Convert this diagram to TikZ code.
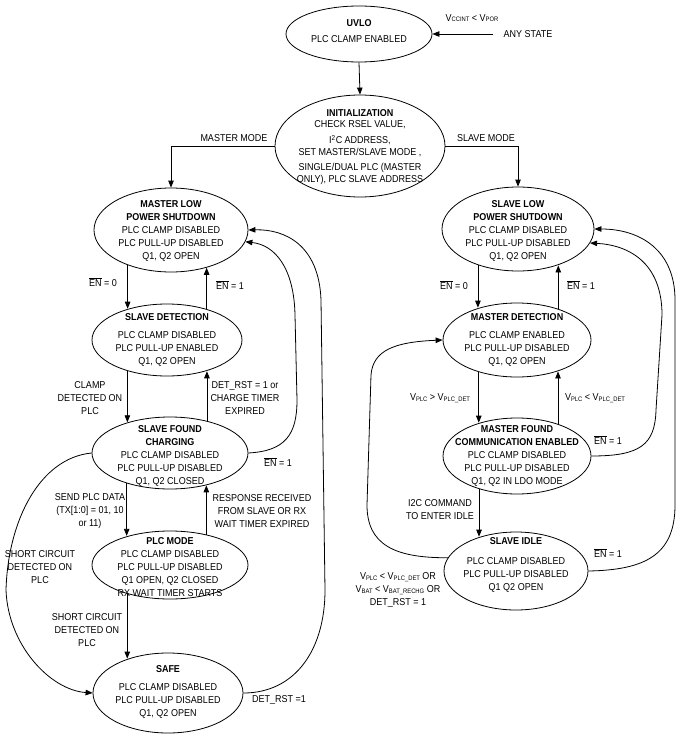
\documentclass[tikz,border=0pt]{standalone}
\usepackage{fontspec}
\setmainfont[FakeStretch=0.9]{Liberation Sans}
\usetikzlibrary{shapes.geometric,arrows.meta}
\newcommand{\lsub}[1]{\raisebox{-0.8pt}{\fontsize{6.5}{7}\selectfont #1}}
\newcommand{\ENb}{$\overline{\mbox{EN}}$}
\begin{document}
\begin{tikzpicture}[x=1pt,y=-1pt,
 st/.style={draw, ellipse, line width=0.8pt, inner sep=0pt},
 txt/.style={align=center, font=\fontsize{10}{13}\selectfont, inner sep=0pt},
 arr/.style={-{Triangle[length=7pt,width=5.5pt]}, line width=0.8pt}]
\useasboundingbox (0,0) rectangle (680,741);

% ---------- states ----------
\node[st, minimum width=146pt, minimum height=56pt] (uvlo) at (359,34) {};
\node[txt] (uvlot) at (359,31) {\textbf{UVLO}\\[3pt]PLC CLAMP ENABLED};

\node[st, minimum width=170pt, minimum height=102pt] (init) at (360,146) {};
\node[txt] (initt) at (360,147) {\textbf{INITIALIZATION}\\[-2pt]CHECK RSEL VALUE,\\[3.5pt]I\textsuperscript{2}C ADDRESS,\\[-1pt]SET MASTER/SLAVE MODE ,\\[2pt]SINGLE/DUAL PLC (MASTER\\[-1.3pt]ONLY), PLC SLAVE ADDRESS};

\node[st, minimum width=154pt, minimum height=84pt] (mlps) at (171,230) {};
\node[txt] (mlpst) at (171,230.5) {\textbf{MASTER LOW}\\\textbf{POWER SHUTDOWN}\\PLC CLAMP DISABLED\\PLC PULL-UP DISABLED\\Q1, Q2 OPEN};

\node[st, minimum width=150pt, minimum height=72pt] (sd) at (167,340) {};
\node[txt] (sdt) at (167,339.5) {\textbf{SLAVE DETECTION}\\[5pt]PLC CLAMP DISABLED\\PLC PULL-UP ENABLED\\Q1, Q2 OPEN};

\node[st, minimum width=156pt, minimum height=72pt] (sfc) at (170,453) {};
\node[txt] (sfct) at (170,455.5) {\textbf{SLAVE FOUND}\\\textbf{CHARGING}\\PLC CLAMP DISABLED\\PLC PULL-UP DISABLED\\Q1, Q2 CLOSED};

\node[st, minimum width=156pt, minimum height=68pt] (plc) at (170,565) {};
\node[txt] (plct) at (170,567.5) {\textbf{PLC MODE}\\PLC CLAMP DISABLED\\PLC PULL-UP DISABLED\\Q1 OPEN, Q2 CLOSED\\RX WAIT TIMER STARTS};

\node[st, minimum width=150pt, minimum height=80pt] (safe) at (168,693) {};
\node[txt] (safet) at (168,691.5) {\textbf{SAFE}\\[5pt]PLC CLAMP DISABLED\\PLC PULL-UP DISABLED\\Q1, Q2 OPEN};

\node[st, minimum width=152pt, minimum height=84pt] (slps) at (518,229) {};
\node[txt] (slpst) at (518,230.5) {\textbf{SLAVE LOW}\\\textbf{POWER SHUTDOWN}\\PLC CLAMP DISABLED\\PLC PULL-UP DISABLED\\Q1, Q2 OPEN};

\node[st, minimum width=148pt, minimum height=74pt] (md) at (517,340) {};
\node[txt] (mdt) at (517,339.5) {\textbf{MASTER DETECTION}\\[5pt]PLC CLAMP ENABLED\\PLC PULL-UP DISABLED\\Q1, Q2 OPEN};

\node[st, minimum width=148pt, minimum height=76pt] (mf) at (517,456) {};
\node[txt] (mft) at (517,455.5) {\textbf{MASTER FOUND}\\\textbf{COMMUNICATION ENABLED}\\PLC CLAMP DISABLED\\PLC PULL-UP DISABLED\\Q1, Q2 IN LDO MODE};

\node[st, minimum width=144pt, minimum height=78pt] (si) at (516,571) {};
\node[txt] (sit) at (516,564.5) {\textbf{SLAVE IDLE}\\[7pt]PLC CLAMP DISABLED\\PLC PULL-UP DISABLED\\Q1 Q2 OPEN};

% ---------- labels ----------
\node[txt] (any) at (528,34) {ANY STATE};
\node[txt] (vpor) at (472,18) {V\lsub{CCINT} < V\lsub{POR}};
\node[txt] (lmaster) at (234,138) {MASTER MODE};
\node[txt] (lslave) at (486,138) {SLAVE MODE};
\node[txt] (len0l) at (103,282) {\ENb{} = 0};
\node[txt] (len1l) at (230,285) {\ENb{} = 1};
\node[txt] (lclamp) at (90,398) {CLAMP\\DETECTED ON\\PLC};
\node[txt] (ldetrst) at (245,398) {DET\_RST = 1 or\\CHARGE TIMER\\EXPIRED};
\node[txt] (lsend) at (90,511) {SEND PLC DATA\\(TX[1:0] = 01, 10\\or 11)};
\node[txt] (lresp) at (262,511) {RESPONSE RECEIVED\\FROM SLAVE OR RX\\WAIT TIMER EXPIRED};
\node[txt] (len1sfc) at (278,462) {\ENb{} = 1};
\node[txt] (lshort1) at (40,567) {SHORT CIRCUIT\\DETECTED ON\\PLC};
\node[txt] (lshort2) at (87,630) {SHORT CIRCUIT\\DETECTED ON\\PLC};
\node[txt] (ldet2) at (279,700) {DET\_RST =1};
\node[txt] (len0r) at (454,285) {\ENb{} = 0};
\node[txt] (len1r) at (581,285) {\ENb{} = 1};
\node[txt] (lvgt) at (440,398) {V\lsub{PLC} > V\lsub{PLC\_DET}};
\node[txt] (lvlt) at (595,398) {V\lsub{PLC} < V\lsub{PLC\_DET}};
\node[txt] (len1mf) at (608,440) {\ENb{} = 1};
\node[txt] (li2c) at (440,510) {I2C COMMAND\\TO ENTER IDLE};
\node[txt] (len1si) at (608,553) {\ENb{} = 1};
\node[txt] (lvbat) at (398,590) {V\lsub{PLC} < V\lsub{PLC\_DET} OR\\V\lsub{BAT} < V\lsub{BAT\_RECHG} OR\\DET\_RST = 1};

% ---------- connectors ----------
\draw[arr] ([xshift=-10pt]any.west) -- (uvlo.east);
\draw[arr] (uvlo.south) -- (init.north);
\draw[arr] (init.west) -| (mlps.north);
\draw[arr] (init.east) -| (slps.north);

\draw[arr] (mlps.219) -- (mlps.219 |- sd.141.8);
\draw[arr] (sd.38.2) -- (sd.38.2 |- mlps.313.1);
\draw[arr] (sd.218.2) -- (sd.218.2 |- sfc.144.2);
\draw[arr] (sfc.41.5) -- (sfc.41.5 |- sd.321.8);
\draw[arr] (sfc.215.8) -- (sfc.215.8 |- plc.145.7);
\draw[arr] (plc.40) -- (plc.40 |- sfc.318.5);
\draw[arr] (plc.214.3) -- (plc.214.3 |- safe.139.8);

\draw[arr] (sfc.west) .. controls (40,458) and (8,520) .. (6,590)
  .. controls (8,645) and (50,690) .. (safe.west);
\draw[arr] (safe.east) .. controls (295,693) and (325,650) .. (325,590)
  -- (321,300) .. controls (319,245) and (285,229) .. (mlps.east);
\draw[arr] (sfc.east) .. controls (285,451) and (297,435) .. (297,400)
  -- (295,315) .. controls (294,268) and (275,245) .. (mlps.351);

\draw[arr] (slps.222.7) -- (slps.222.7 |- md.139.1);
\draw[arr] (md.37.9) -- (md.37.9 |- slps.317.3);
\draw[arr] (md.220.9) -- (md.220.9 |- mf.138.4);
\draw[arr] (mf.38.7) -- (mf.38.7 |- md.322.1);
\draw[arr] (mf.221.6) -- (mf.221.6 |- si.136.8);

\draw[arr] (mf.east) .. controls (640,456) and (655,445) .. (656,410)
  -- (662,315) .. controls (662,262) and (628,245) .. (slps.349);
\draw[arr] (si.east) .. controls (645,570) and (675,555) .. (675,505)
  -- (675,300) .. controls (675,250) and (640,229) .. (slps.east);
\draw[arr] (si.169) .. controls (395,558) and (367,545) .. (367,505)
  -- (371,375) .. controls (373,350) and (395,342) .. (md.west);
\end{tikzpicture}
\end{document}
